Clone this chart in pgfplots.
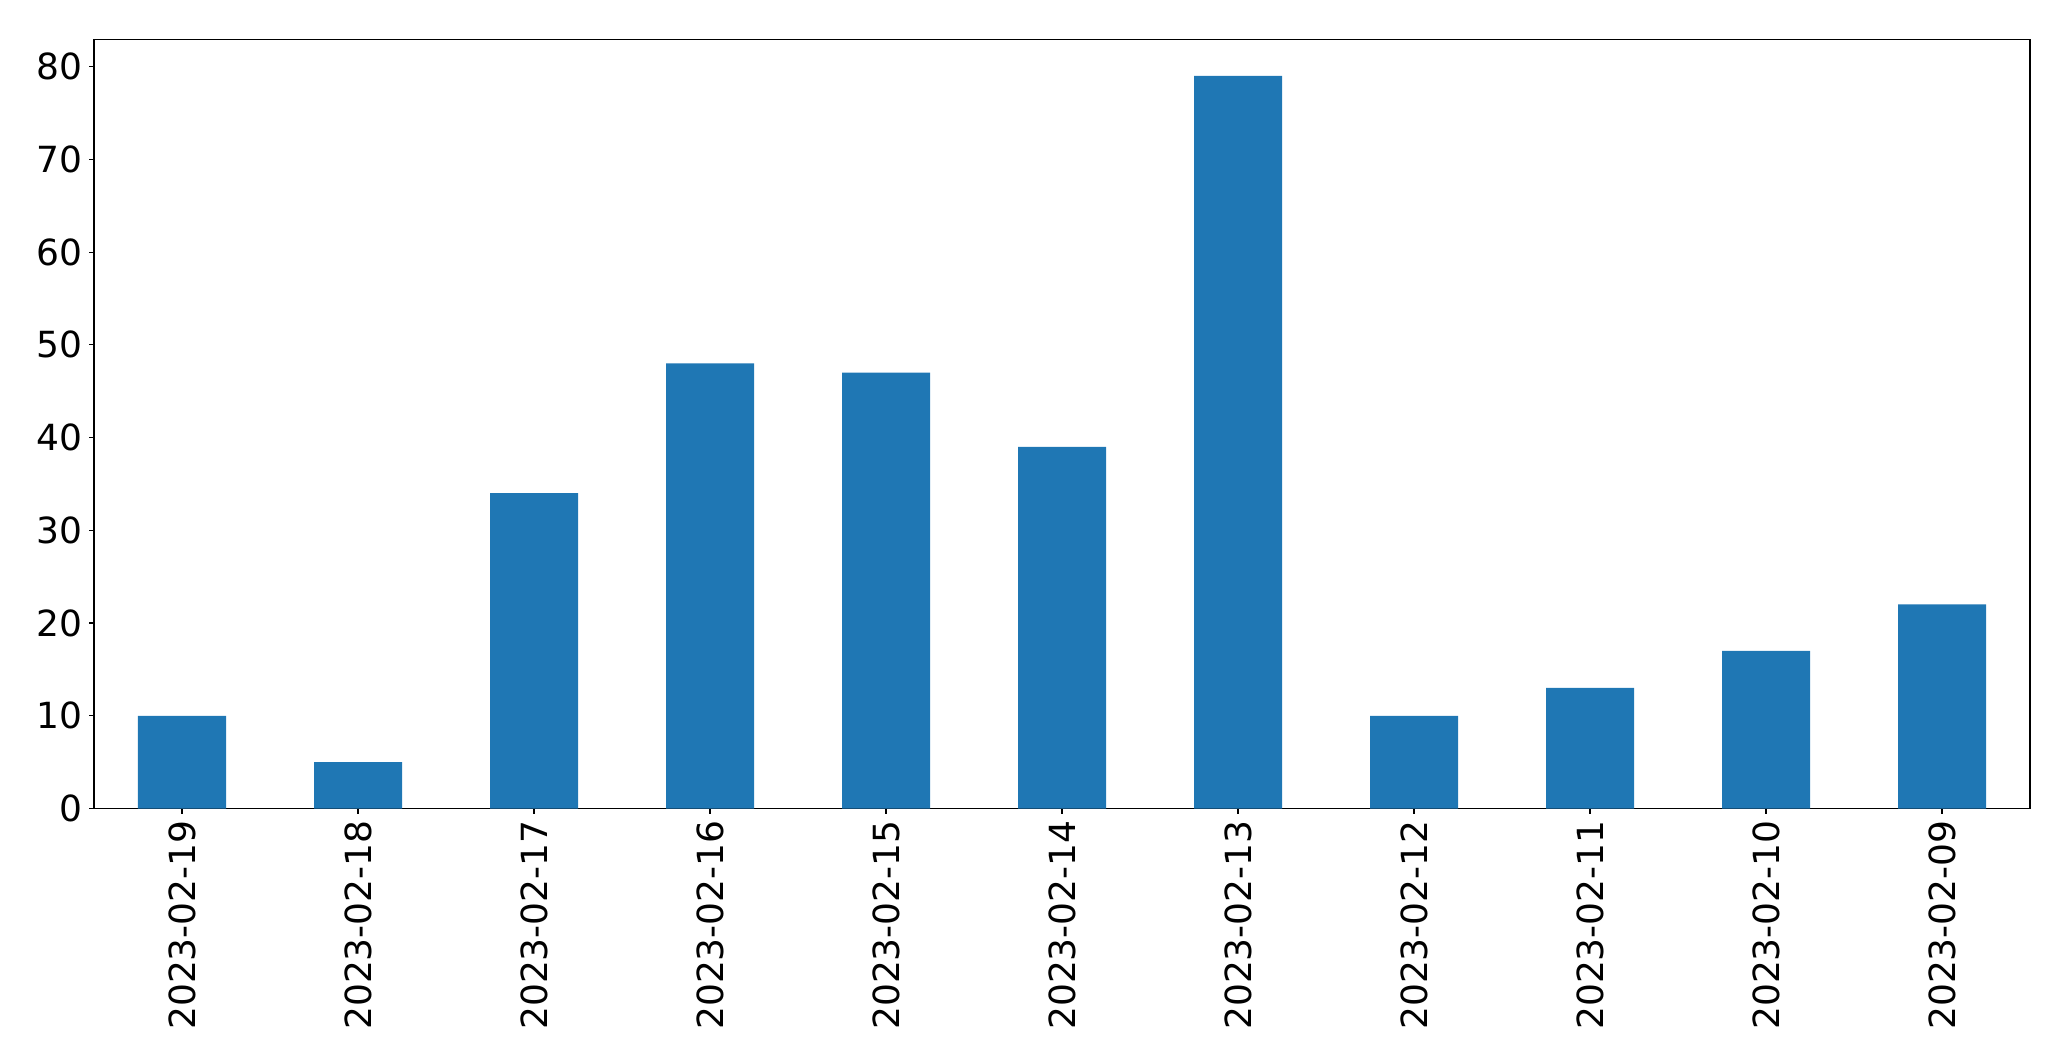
\documentclass[border=0pt]{standalone}
\usepackage{pgfplots}
\pgfplotsset{compat=1.18}
\usepackage{fontspec}
\setmainfont{DejaVu Sans}
\definecolor{mplblue}{HTML}{1F77B4}
\begin{document}
\begin{tikzpicture}
\begin{axis}[
 scale only axis, width=968pt, height=384.6pt,
 xmin=-0.5, xmax=10.5, ymin=0, ymax=82.95,
 ybar, bar width=0.5,
 xtick={0,...,10},
 xticklabels={2023-02-19,2023-02-18,2023-02-17,2023-02-16,2023-02-15,2023-02-14,2023-02-13,2023-02-12,2023-02-11,2023-02-10,2023-02-09},
 x tick label style={rotate=90, anchor=east},
 ytick={0,10,...,80},
 tick align=outside, major tick length=2.5pt, tick pos=left,
 ticklabel style={font=\fontsize{18}{20}\selectfont},
 /pgf/number format/assume math mode=true,
 axis line style={line width=0.6pt},
 tick style={line width=0.6pt, black},
]
\addplot[fill=mplblue, draw=none] coordinates {(0,10) (1,5) (2,34) (3,48) (4,47) (5,39) (6,79) (7,10) (8,13) (9,17) (10,22)};
\end{axis}
\pgfresetboundingbox
\path (-47pt,-126.25pt) rectangle (988.5pt,404.25pt);
\end{tikzpicture}
\end{document}
